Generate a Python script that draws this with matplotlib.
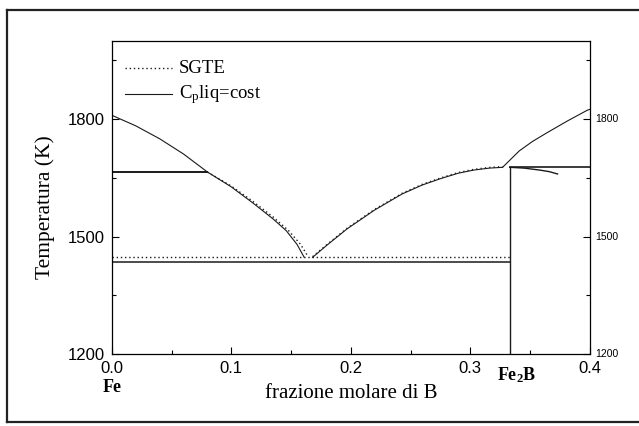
import matplotlib
matplotlib.use("Agg")
import matplotlib.pyplot as plt
from matplotlib.lines import Line2D

plt.rcParams["mathtext.fontset"] = "custom"
plt.rcParams["mathtext.rm"] = "Liberation Serif"
plt.rcParams["mathtext.it"] = "Liberation Serif:italic"
plt.rcParams["mathtext.bf"] = "Liberation Serif:bold"

# Liquidus, Fe-rich side (C_p liq = cost)
liq_fe_x = [0.000, 0.020, 0.040, 0.060, 0.080, 0.100, 0.118, 0.135, 0.146, 0.155, 0.161]
liq_fe_T = [1810, 1783, 1750, 1711, 1665, 1627, 1586, 1545, 1515, 1480, 1447]
# Liquidus, Fe-rich side (SGTE)
sgte_fe_x = [0.080, 0.100, 0.118, 0.135, 0.148, 0.158, 0.164]
sgte_fe_T = [1665, 1629, 1590, 1550, 1515, 1480, 1450]

# Liquidus between eutectic and Fe2B
liq_mid_x = [0.168, 0.180, 0.197, 0.220, 0.243, 0.260, 0.275, 0.290, 0.303, 0.316, 0.327]
liq_mid_T = [1447, 1478, 1520, 1568, 1609, 1632, 1648, 1662, 1670, 1675, 1677]

# Liquidus on the B-rich side of Fe2B
liq_b_x = [0.327, 0.341, 0.352, 0.364, 0.381, 0.398, 0.400]
liq_b_T = [1677, 1719, 1743, 1765, 1795, 1823, 1825]

# Short metastable branch below the Fe2B melting line
meta_x = [0.333, 0.345, 0.358, 0.366, 0.373]
meta_T = [1677, 1675, 1670, 1666, 1660]

# Invariant lines
T_peritectic = 1665
x_peritectic = 0.080
T_eut_sgte = 1449
T_eut_cost = 1434
x_fe2b = 0.333
T_fe2b = 1677

x_ticks = [0.0, 0.1, 0.2, 0.3, 0.4]
x_minor = [0.05, 0.15, 0.25, 0.35]
y_ticks = [1200, 1500, 1800]
y_minor = [1350, 1650, 1950]

fig = plt.figure(figsize=(6.39, 4.26), dpi=100)
ax = fig.add_axes([0.175, 0.169, 0.748, 0.735])

lc = "#1a1a1a"
ax.plot(liq_fe_x, liq_fe_T, color=lc, lw=0.8)
ax.plot(sgte_fe_x, sgte_fe_T, color=lc, lw=1.0, ls=(0, (1, 2)))
ax.plot(liq_mid_x, liq_mid_T, color=lc, lw=0.8)
ax.plot(liq_mid_x, [t + 2 for t in liq_mid_T], color=lc, lw=0.9, ls=(0, (1, 2.5)))
ax.plot(liq_b_x, liq_b_T, color=lc, lw=0.8)
ax.plot(meta_x, meta_T, color=lc, lw=1.0)

ax.plot([0, x_peritectic], [T_peritectic, T_peritectic], color=lc, lw=1.4)
ax.plot([0, x_fe2b], [T_eut_sgte, T_eut_sgte], color=lc, lw=1.0, ls=(0, (1, 2)))
ax.plot([0, x_fe2b], [T_eut_cost, T_eut_cost], color=lc, lw=1.1)
ax.plot([x_fe2b, 0.4], [T_fe2b, T_fe2b], color=lc, lw=1.2)
ax.plot([x_fe2b, x_fe2b], [1200, T_fe2b], color=lc, lw=1.0)

ax.set_xlim(0, 0.4)
ax.set_ylim(1200, 2000)
ax.set_xticks(x_ticks)
ax.set_xticks(x_minor, minor=True)
ax.set_yticks(y_ticks)
ax.set_yticks(y_minor, minor=True)
ax.tick_params(which="both", direction="in", right=True, top=False,
               labelsize=12, pad=5)
ax.tick_params(which="major", length=5, width=0.8)
ax.tick_params(which="minor", length=3, width=0.8)
ax.set_xticklabels(["0.0", "0.1", "0.2", "0.3", "0.4"], family="Liberation Sans")
ax.set_yticklabels(["1200", "1500", "1800"], family="Liberation Sans")
for s in ax.spines.values():
    s.set_linewidth(0.9)

# Right-hand temperature labels in a smaller font
for t in y_ticks:
    ax.text(1.012, (t - 1200) / 800, str(t), transform=ax.transAxes,
            ha="left", va="center", fontsize=7.5, family="Liberation Sans")

ax.set_xlabel("frazione molare di B", family="Liberation Serif", fontsize=15,
              labelpad=6)
ax.set_ylabel("Temperatura (K)", family="Liberation Serif", fontsize=15.5)
ax.yaxis.set_label_coords(-0.118, 0.47)

ax.text(0.0, -0.108, "Fe", transform=ax.transAxes, ha="center", va="center",
        family="Liberation Serif", fontweight="bold", fontsize=13)
ax.text(x_fe2b + 0.006, 1145, r"Fe$_\mathbf{2}$B", ha="center", va="center",
        family="Liberation Serif", fontweight="bold", fontsize=13)

# Legend entries
ax.plot([0.011, 0.050], [1930, 1930], color=lc, lw=1.0, ls=(0, (1, 2)))
ax.text(0.056, 1930, "SGTE", family="Liberation Serif", fontsize=13.5,
        va="center", ha="left")
ax.plot([0.011, 0.050], [1864, 1864], color=lc, lw=0.8)
ax.text(0.056, 1864, r"C$_{\rm p}$liq=cost", family="Liberation Serif",
        fontsize=13.5, va="center", ha="left")

# Outer frame around the whole figure
for xs, ys in [([0.011, 0.011], [0.009, 0.977]),
               ([0.011, 1.0], [0.977, 0.977]),
               ([0.011, 1.0], [0.009, 0.009])]:
    fig.add_artist(Line2D(xs, ys, transform=fig.transFigure, color="#222222",
                          lw=1.6))

fig.savefig("out.png", dpi=100)
